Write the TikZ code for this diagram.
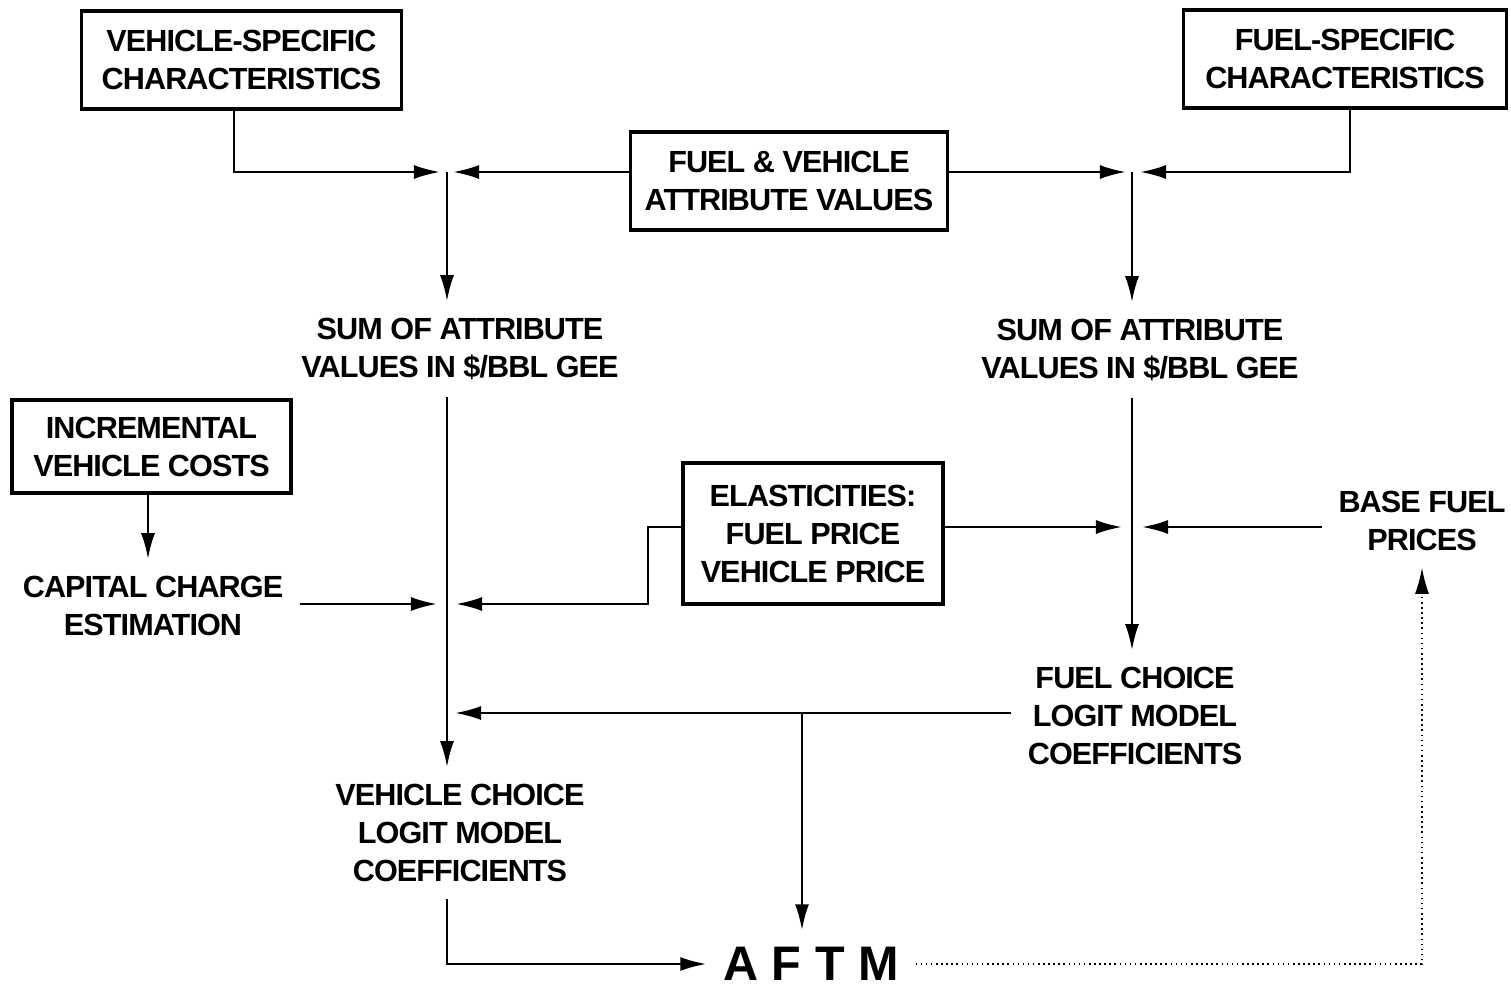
\documentclass[tikz,border=0pt]{standalone}
\usepackage{fontspec}
\setmainfont{Liberation Sans}[LetterSpace=-3]
\usetikzlibrary{arrows.meta}
\tikzstyle{arrow} = [-{Latex[length=0.26cm, width=0.14cm]}, line width=0.7pt, draw=black]
\tikzstyle{feedback} = [arrow, line width=0.45pt, densely dotted]
\tikzstyle{box} = [draw=black, line width=0.9pt, inner sep=0pt, outer sep=0pt, align=center]
\tikzstyle{plain} = [draw=none, inner sep=0pt, outer sep=0.17cm, align=center]
\begin{document}
\begin{tikzpicture}[x=0.01cm, y=-0.01cm, font=\fontsize{8.7}{10.8}\selectfont\bfseries]
	\useasboundingbox (0,0) rectangle (1511,990);
	% INPUTS
	\node (vsc) [box, minimum width=3.19cm, minimum height=0.98cm] at (241.5,60) {VEHICLE-SPECIFIC\\CHARACTERISTICS};
	\node (fsc) [box, minimum width=3.22cm, minimum height=0.98cm] at (1345,59) {FUEL-SPECIFIC\\CHARACTERISTICS};
	\node (fva) [box, minimum width=3.16cm, minimum height=0.98cm] at (789,181) {FUEL \& VEHICLE\\ATTRIBUTE VALUES};
	\node (inc) [box, minimum width=2.79cm, minimum height=0.93cm] at (151.5,446.5) {INCREMENTAL\\VEHICLE COSTS};
	\node (ela) [box, minimum width=2.60cm, minimum height=1.41cm] at (813,533.5) {ELASTICITIES:\\FUEL PRICE\\VEHICLE PRICE};

	% SUMS AND COEFFICIENTS
	\node (suml) [plain] at (460,349) {SUM OF ATTRIBUTE\\VALUES IN \$/BBL GEE};
	\node (sumr) [plain] at (1140,350) {SUM OF ATTRIBUTE\\VALUES IN \$/BBL GEE};
	\node (cap) [plain] at (153,606) {CAPITAL CHARGE\\ESTIMATION};
	\node (bfp) [plain] at (1422,521) {BASE FUEL\\PRICES};
	\node (fcl) [plain] at (1135,716) {FUEL CHOICE\\LOGIT MODEL\\COEFFICIENTS};
	\node (vcl) [plain] at (460,833) {VEHICLE CHOICE\\LOGIT MODEL\\COEFFICIENTS};
	\node (aftm) [plain, font=\fontsize{13.8}{15}\selectfont\bfseries\addfontfeature{LetterSpace=0}] at (811,964) {A F T M};

	% JUNCTIONS
	\coordinate (jl) at (447,172);
	\coordinate (jr) at (1132,172);
	\coordinate (jl2) at (447,604);
	\coordinate (jr2) at (1132,527);
	\coordinate (jl3) at (447,713);
	\coordinate (jd) at (802,713);

	\draw [arrow, shorten >=0.07cm] ([xshift=-0.075cm]vsc.south) |- (jl);
	\draw [arrow, shorten >=0.06cm] (fva.west |- jl) -- (jl);
	\draw [arrow, shorten >=0.06cm] (fva.east |- jr) -- (jr);
	\draw [arrow, shorten >=0.08cm] ([xshift=0.05cm]fsc.south) |- (jr);
	\draw [arrow] (jl) -- (jl |- suml.north);
	\draw [arrow] (jr) -- (jr |- sumr.north);
%
	\draw [arrow] (jl |- suml.south) -- (jl |- vcl.north);
	\draw [arrow] (jr |- sumr.south) -- (jr |- fcl.north);
	\draw [arrow] ([xshift=-0.035cm]inc.south) -- ([xshift=-0.035cm]inc.south |- cap.north);
	\draw [arrow, shorten >=0.1cm] (cap.east |- jl2) -- (jl2);
	\draw [arrow, shorten >=0.09cm] (ela.west |- jr2) -- ++(-35,0) |- (jl2);
	\draw [arrow, shorten >=0.1cm] (ela.east |- jr2) -- (jr2);
	\draw [arrow, shorten >=0.1cm] (bfp.west |- jr2) -- (jr2);
	\draw [arrow, shorten >=0.08cm] (fcl.west |- jl3) -- (jl3);
	\draw [arrow] (jd) -- (jd |- aftm.north);
	\draw [arrow] (vcl.south -| jl) |- (aftm.west);
	\draw [feedback] (aftm.east) -| (bfp.south);
\end{tikzpicture}
\end{document}
